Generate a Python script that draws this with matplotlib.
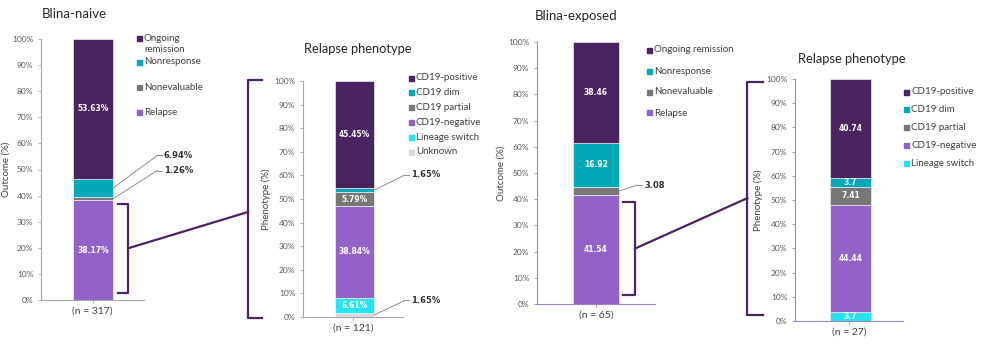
import numpy as np
import matplotlib.pyplot as plt
from matplotlib.lines import Line2D
from matplotlib.patches import Rectangle

plt.rcParams['font.family'] = ['Lato', 'DejaVu Sans']

# outcome data
outcome_labels = ['Relapse', 'Nonevaluable', 'Nonresponse', 'Ongoing remission']
naive_outcome = [38.17, 1.26, 6.94, 53.63]
exposed_outcome = [41.54, 3.08, 16.92, 38.46]
naive_n = 317
exposed_n = 65

# phenotype data (bottom to top)
pheno_labels = ['Unknown', 'Lineage switch', 'CD19-negative', 'CD19 partial', 'CD19 dim', 'CD19-positive']
naive_pheno = [1.65, 6.61, 38.84, 5.79, 1.65, 45.45]
exposed_pheno = [0.0, 3.7, 44.44, 7.41, 3.7, 40.74]
naive_pheno_n = 121
exposed_pheno_n = 27

DARK = '#4a2461'
TEAL = '#00a9b5'
GRAY = '#777777'
LPURP = '#9362c8'
CYAN = '#25e3f0'
LGRAY = '#dadada'
outcome_colors = [LPURP, GRAY, TEAL, DARK]
pheno_colors = [LGRAY, CYAN, LPURP, GRAY, TEAL, DARK]

W, H = 1000, 351
fig = plt.figure(figsize=(W / 100, H / 100), dpi=100)


def px(x, y):
    # pixel (from top-left) -> figure fraction
    return x / W, 1 - y / H


def make_ax(left, right, top, bottom, spine_col):
    x0, y0 = px(left, bottom)
    x1, y1 = px(right, top)
    ax = fig.add_axes([x0, y0, x1 - x0, y1 - y0])
    ax.set_ylim(0, 100)
    ax.set_xlim(-0.5, 0.5)
    for s in ['top', 'right']:
        ax.spines[s].set_visible(False)
    for s in ['left', 'bottom']:
        ax.spines[s].set_color(spine_col)
        ax.spines[s].set_linewidth(0.8)
    ax.set_yticks(np.arange(0, 101, 10))
    ax.set_yticklabels([f'{v}%' for v in range(0, 101, 10)])
    ax.tick_params(axis='y', labelsize=6, colors=spine_col, labelcolor='#595959', length=2.5, width=0.6, pad=3)
    ax.tick_params(axis='x', labelsize=7.5, colors=spine_col, labelcolor='#404040', length=2.5, width=0.6, pad=2)
    return ax


def stack(ax, center, width, values, colors, fmt, hide_small=2.0):
    bottom = 0
    mids = []
    for v, c in zip(values, colors):
        ax.bar(center, v, width, bottom=bottom, color=c, edgecolor='white', linewidth=0.4)
        mids.append(bottom + v / 2)
        if v >= hide_small:
            ax.text(center, bottom + v / 2, fmt(v), ha='center', va='center', color='white',
                    fontsize=5.5, fontweight='bold', family='DejaVu Sans')
        bottom += v
    return mids


def callout(ax, y_from, x_to, y_to, label):
    ax.plot([ax_bar_right[ax], x_to], [y_from, y_to], color='#7f7f7f', lw=0.6, clip_on=False)
    ax.plot([x_to, x_to + 0.04], [y_to, y_to], color='#7f7f7f', lw=0.6, clip_on=False)
    ax.text(x_to + 0.06, y_to, label, ha='left', va='center', fontsize=6, fontweight='bold',
            color='#333333', family='DejaVu Sans')


def swatch(x, y, col):
    fx, fy = px(x, y + 2.5)
    fig.add_artist(Rectangle((fx, fy), 5 / W, 5 / H, color=col, transform=fig.transFigure))


def legend(items, x, y0, steps):
    y = y0
    for (lab, col), st in zip(items, steps):
        swatch(x, y, col)
        fig.text(*px(x + 7, y), lab, color='#404040', fontsize=7, va='center', ha='left', linespacing=1.2)
        y += st


ax_bar_right = {}

# ---- panel 1: Blina-naive
ax1 = make_ax(41, 144, 39, 300, '#a6a6a6')
c1, w1 = 0.005, 0.39
ax_bar_right[ax1] = c1 + w1 / 2
m1 = stack(ax1, c1, w1, naive_outcome, outcome_colors, lambda v: f'{v:.2f}%', hide_small=8)
ax1.set_xticks([0])
ax1.set_xticklabels([f'(n = {naive_n})'])
ax1.set_ylabel('Outcome (%)', fontsize=7, color='#404040', labelpad=1)
callout(ax1, m1[2], 0.63, 55.4, f'{naive_outcome[2]:.2f}%')
callout(ax1, m1[1], 0.63, 49.6, f'{naive_outcome[1]:.2f}%')
fig.text(*px(42, 14), 'Blina-naive', fontsize=9.5, color='#262626', va='center', ha='left')
swatch(137, 38, DARK)
fig.text(*px(144, 44), 'Ongoing\nremission', color='#404040', fontsize=7, va='center', linespacing=1.15)
legend([('Nonresponse', TEAL), ('Nonevaluable', GRAY), ('Relapse', LPURP)], 137, 62, [25, 25, 25])

# ---- panel 2: naive phenotype
ax2 = make_ax(303, 403, 81, 317, '#a6a6a6')
c2, w2 = 0.015, 0.39
ax_bar_right[ax2] = c2 + w2 / 2
m2 = stack(ax2, c2, w2, naive_pheno, pheno_colors, lambda v: f'{v:.2f}%')
ax2.set_xticks([0])
ax2.set_xticklabels([f'(n = {naive_pheno_n})'])
ax2.set_ylabel('Phenotype (%)', fontsize=7, color='#404040', labelpad=2)
callout(ax2, m2[4], 0.52, 60.2, f'{naive_pheno[4]:.2f}%')
callout(ax2, m2[0], 0.52, 7.0, f'{naive_pheno[0]:.2f}%')
fig.text(*px(358, 49), 'Relapse phenotype', fontsize=9.3, color='#262626', va='center', ha='center')
legend(list(zip(pheno_labels, pheno_colors))[::-1], 409, 78, [14.8] * 6)

# ---- panel 3: Blina-exposed
ax3 = make_ax(537, 655, 42, 304, '#9d84bb')
c3, w3 = 0.0, 0.39
ax_bar_right[ax3] = c3 + w3 / 2
m3 = stack(ax3, c3, w3, exposed_outcome, outcome_colors, lambda v: f'{v:g}', hide_small=5)
ax3.set_xticks([0])
ax3.set_xticklabels([f'(n = {exposed_n})'])
ax3.set_ylabel('Outcome (%)', fontsize=7, color='#404040', labelpad=2)
callout(ax3, m3[1], 0.35, 45.4, f'{exposed_outcome[1]:g}')
fig.text(*px(535, 16), 'Blina-exposed', fontsize=9.5, color='#262626', va='center', ha='left')
legend(list(zip(outcome_labels, outcome_colors))[::-1], 647, 50, [21] * 4)

# ---- panel 4: exposed phenotype
ax4 = make_ax(795, 903, 79, 321, '#9d84bb')
c4, w4 = 0.014, 0.38
ax_bar_right[ax4] = c4 + w4 / 2
stack(ax4, c4, w4, exposed_pheno, pheno_colors, lambda v: f'{v:g}')
ax4.set_xticks([0])
ax4.set_xticklabels([f'(n = {exposed_pheno_n})'])
ax4.set_ylabel('Phenotype (%)', fontsize=7, color='#404040', labelpad=2)
fig.text(*px(852, 59), 'Relapse phenotype', fontsize=9.3, color='#262626', va='center', ha='center')
legend(list(zip(pheno_labels[1:], pheno_colors[1:]))[::-1], 904, 92, [17.8] * 5)


# ---- brackets linking outcome relapse to phenotype bars
def to_fig(ax, xa, yd):
    lo, hi = ax.get_xlim()
    disp = ax.transData.transform((lo + xa * (hi - lo), yd))
    return fig.transFigure.inverted().transform(disp)


def poly(pts):
    fig.add_artist(Line2D([p[0] for p in pts], [p[1] for p in pts],
                          color=DARK, lw=1.6, transform=fig.transFigure))


def bracket(src, sx0, sx1, sy0, sy1, dst, dx0, dx1, dy0, dy1, dmid):
    poly([to_fig(src, sx0, sy1), to_fig(src, sx1, sy1), to_fig(src, sx1, sy0), to_fig(src, sx0, sy0)])
    poly([to_fig(dst, dx1, dy1), to_fig(dst, dx0, dy1), to_fig(dst, dx0, dy0), to_fig(dst, dx1, dy0)])
    poly([to_fig(src, sx1, (sy0 + sy1) / 2), to_fig(dst, dx0, dmid)])


bracket(ax1, 0.75, 0.845, 2.7, 36.9, ax2, -0.55, -0.41, -0.4, 100.4, 44.5)
bracket(ax3, 0.73, 0.83, 3.4, 38.9, ax4, -0.44, -0.30, 2.5, 98.8, 50.8)

fig.savefig('out.png', dpi=100, facecolor='white')
